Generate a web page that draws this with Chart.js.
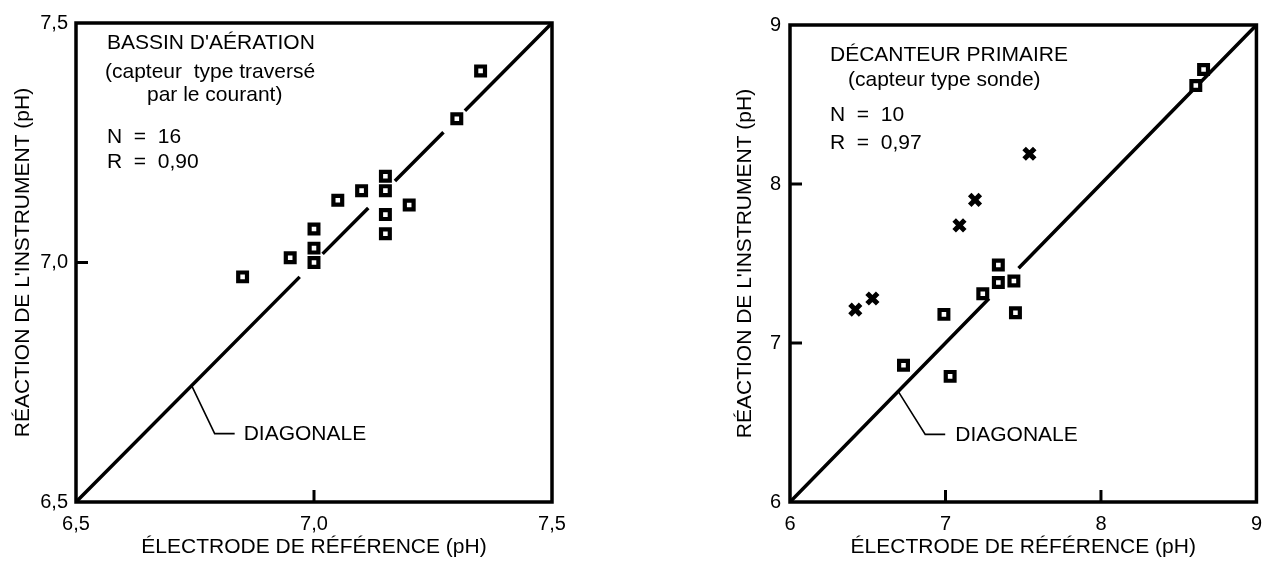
<!DOCTYPE html>
<html>
<head>
<meta charset="utf-8">
<script src="https://cdn.jsdelivr.net/npm/chart.js@4"></script>
<style>
  html,body{margin:0;padding:0;background:#fff;width:1272px;height:562px;overflow:hidden;}
  .box{position:absolute;top:0;height:562px;}
</style>
</head>
<body>
<div class="box" style="left:0;width:600px;"><canvas id="chartA"></canvas></div>
<div class="box" style="left:720px;width:552px;"><canvas id="chartB"></canvas></div>
<script>
// ---------- DATA ----------
// Left chart: Bassin d'aération (squares)
const aerationRef  = [7.35, 7.30, 7.15, 7.15, 7.10, 7.05, 7.20, 7.15, 7.15, 7.00, 7.00, 7.00, 6.95, 6.85];
const aerationInst = [7.40, 7.30, 7.18, 7.15, 7.15, 7.13, 7.12, 7.10, 7.06, 7.07, 7.03, 7.00, 7.01, 6.97];
// Diagonal y = x, drawn as segments (breaks where the figure interrupts the line)
const aerationDiagSegments = [[6.5, 6.97], [7.018, 7.114], [7.17, 7.272], [7.317, 7.5]];
const aerationTicks = [6.5, 7.0, 7.5];

// Right chart: Décanteur primaire
const primRefSq   = [8.66, 8.61, 7.34, 7.34, 7.44, 7.24, 6.99, 7.45, 6.73, 7.03];
const primInstSq  = [8.72, 8.62, 7.49, 7.38, 7.39, 7.31, 7.18, 7.19, 6.86, 6.79];
const primRefX    = [7.54, 7.19, 7.09, 6.42, 6.53];
const primInstX   = [8.19, 7.90, 7.74, 7.21, 7.28];
const primDiagSegments = [[6, 7.28], [7.47, 9]];
const primTicks = [6, 7, 8, 9];

const xTitle = 'ÉLECTRODE DE RÉFÉRENCE (pH)';
const yTitle = "RÉACTION DE L'INSTRUMENT (pH)";

// ---------- HELPERS ----------
const FONT = "'Liberation Sans', Arial, Helvetica, sans-serif";
Chart.defaults.font.family = FONT;
Chart.defaults.font.size = 20;
Chart.defaults.color = '#000';

function pts(xs, ys){ return xs.map((x,i)=>({x:x, y:ys[i]})); }
function diag(segs){
  const out = [];
  segs.forEach(([a,b])=>{ out.push({x:a,y:a}); out.push({x:b,y:b}); out.push({x:b,y:null}); });
  return out;
}

const framePlugin = {
  id:'frameAndNotes',
  afterDatasetsDraw(chart, args, opts){
    const {ctx, chartArea:a, scales} = chart;
    ctx.save();
    ctx.strokeStyle = '#000';
    // inward tick marks at interior ticks (from the library's scales)
    ctx.lineWidth = 3;
    const TL = 12;
    scales.x.ticks.forEach(t => {
      if (t.value <= scales.x.min || t.value >= scales.x.max) return;
      const px = scales.x.getPixelForValue(t.value);
      ctx.beginPath(); ctx.moveTo(px, a.bottom); ctx.lineTo(px, a.bottom - TL); ctx.stroke();
    });
    scales.y.ticks.forEach(t => {
      if (t.value <= scales.y.min || t.value >= scales.y.max) return;
      const py = scales.y.getPixelForValue(t.value);
      ctx.beginPath(); ctx.moveTo(a.left, py); ctx.lineTo(a.left + TL, py); ctx.stroke();
    });
    // frame
    ctx.lineWidth = 3.5;
    ctx.strokeRect(a.left, a.top, a.right - a.left, a.bottom - a.top);
    // notes
    ctx.fillStyle = '#000';
    ctx.textBaseline = 'middle';
    ctx.textAlign = 'left';
    ctx.font = '21px ' + FONT;
    (opts.notes || []).forEach(n => { ctx.fillText(n.t, a.left + n.dx, a.top + n.dy); });
    // diagonal label with leader
    if (opts.leader){
      const L = opts.leader;
      const px = scales.x.getPixelForValue(L.at), py = scales.y.getPixelForValue(L.at);
      ctx.lineWidth = 1.6;
      ctx.beginPath();
      ctx.moveTo(px, py);
      ctx.lineTo(px + L.dx, py + L.dy);
      ctx.lineTo(px + L.dx + L.h, py + L.dy);
      ctx.stroke();
      ctx.fillText(L.text, px + L.dx + L.h + L.gap, py + L.dy + 1);
    }
    ctx.restore();
  }
};

function makeOptions(cfg){
  return {
    responsive:true, maintainAspectRatio:false, animation:false,
    layout:{autoPadding:false, padding:{top:cfg.padTop, right:cfg.padRight, bottom:0, left:0}},
    plugins:{legend:{display:false}, tooltip:{enabled:false}, frameAndNotes:cfg.plugin},
    scales:{
      x:{
        type:'linear', min:cfg.min, max:cfg.max,
        afterBuildTicks: s => { s.ticks = cfg.ticks.map(v=>({value:v})); },
        afterFit: s => { s.height = 60; },
        ticks:{ padding:10, maxRotation:0, autoSkip:false, font:{size:20},
                callback: v => cfg.fmt(v) },
        grid:{ display:false, drawOnChartArea:false, drawTicks:false },
        border:{ display:false },
        title:{ display:true, text:xTitle, font:{size:21}, padding:{top:0,bottom:2} }
      },
      y:{
        type:'linear', min:cfg.min, max:cfg.max,
        afterBuildTicks: s => { s.ticks = cfg.ticks.map(v=>({value:v})); },
        afterFit: s => { s.width = cfg.yWidth; },
        ticks:{ padding:cfg.yTickPad, autoSkip:false, font:{size:20},
                callback: v => cfg.fmt(v) },
        grid:{ display:false, drawOnChartArea:false, drawTicks:false },
        border:{ display:false },
        title:{ display:true, text:yTitle, font:{size:21}, padding:{top:cfg.yTitlePad,bottom:0} }
      }
    }
  };
}

const squareStyle = { pointStyle:'rect', pointRadius:6.2, pointBorderWidth:4.2, pointBackgroundColor:'#fff',
                      pointBorderColor:'#000', showLine:false, pointHoverRadius:6.2 };
const crossStyle  = { pointStyle:'crossRot', pointRadius:7.5, pointBorderWidth:5,
                      pointBorderColor:'#000', pointBackgroundColor:'#000', showLine:false };
const diagStyle   = { showLine:true, pointRadius:0, borderColor:'#000', borderWidth:3.5, spanGaps:false, fill:false };

// ---------- LEFT CHART ----------
new Chart(document.getElementById('chartA'), {
  type:'scatter',
  data:{ datasets:[
    Object.assign({label:'Bassin d\'aération', data:pts(aerationRef, aerationInst)}, squareStyle),
    Object.assign({label:'Diagonale', data:diag(aerationDiagSegments)}, diagStyle)
  ]},
  options: makeOptions({
    min:6.5, max:7.5, ticks:aerationTicks, fmt:v=>v.toFixed(1).replace('.', ','),
    padTop:23, padRight:48, yWidth:76, yTickPad:8, yTitlePad:11,
    plugin:{
      notes:[
        {t:"BASSIN D'AÉRATION", dx:31, dy:20},
        {t:"(capteur  type traversé", dx:29, dy:49},
        {t:"par le courant)", dx:71, dy:72},
        {t:"N  =  16", dx:31, dy:114},
        {t:"R  =  0,90", dx:31, dy:139}
      ],
      leader:{at:6.743, dx:23, dy:48, h:20, gap:9, text:'DIAGONALE'}
    }
  }),
  plugins:[framePlugin]
});

// ---------- RIGHT CHART ----------
new Chart(document.getElementById('chartB'), {
  type:'scatter',
  data:{ datasets:[
    Object.assign({label:'Sonde', data:pts(primRefSq, primInstSq)}, squareStyle),
    Object.assign({label:'Croix', data:pts(primRefX, primInstX)}, crossStyle),
    Object.assign({label:'Diagonale', data:diag(primDiagSegments)}, diagStyle)
  ]},
  options: makeOptions({
    min:6, max:9, ticks:primTicks, fmt:v=>String(v),
    padTop:25, padRight:15, yWidth:70, yTickPad:9, yTitlePad:13,
    plugin:{
      notes:[
        {t:'DÉCANTEUR PRIMAIRE', dx:40, dy:30},
        {t:'(capteur type sonde)', dx:58, dy:55},
        {t:'N  =  10', dx:40, dy:90},
        {t:'R  =  0,97', dx:40, dy:118}
      ],
      leader:{at:6.696, dx:27, dy:43, h:20, gap:10, text:'DIAGONALE'}
    }
  }),
  plugins:[framePlugin]
});
</script>
</body>
</html>
